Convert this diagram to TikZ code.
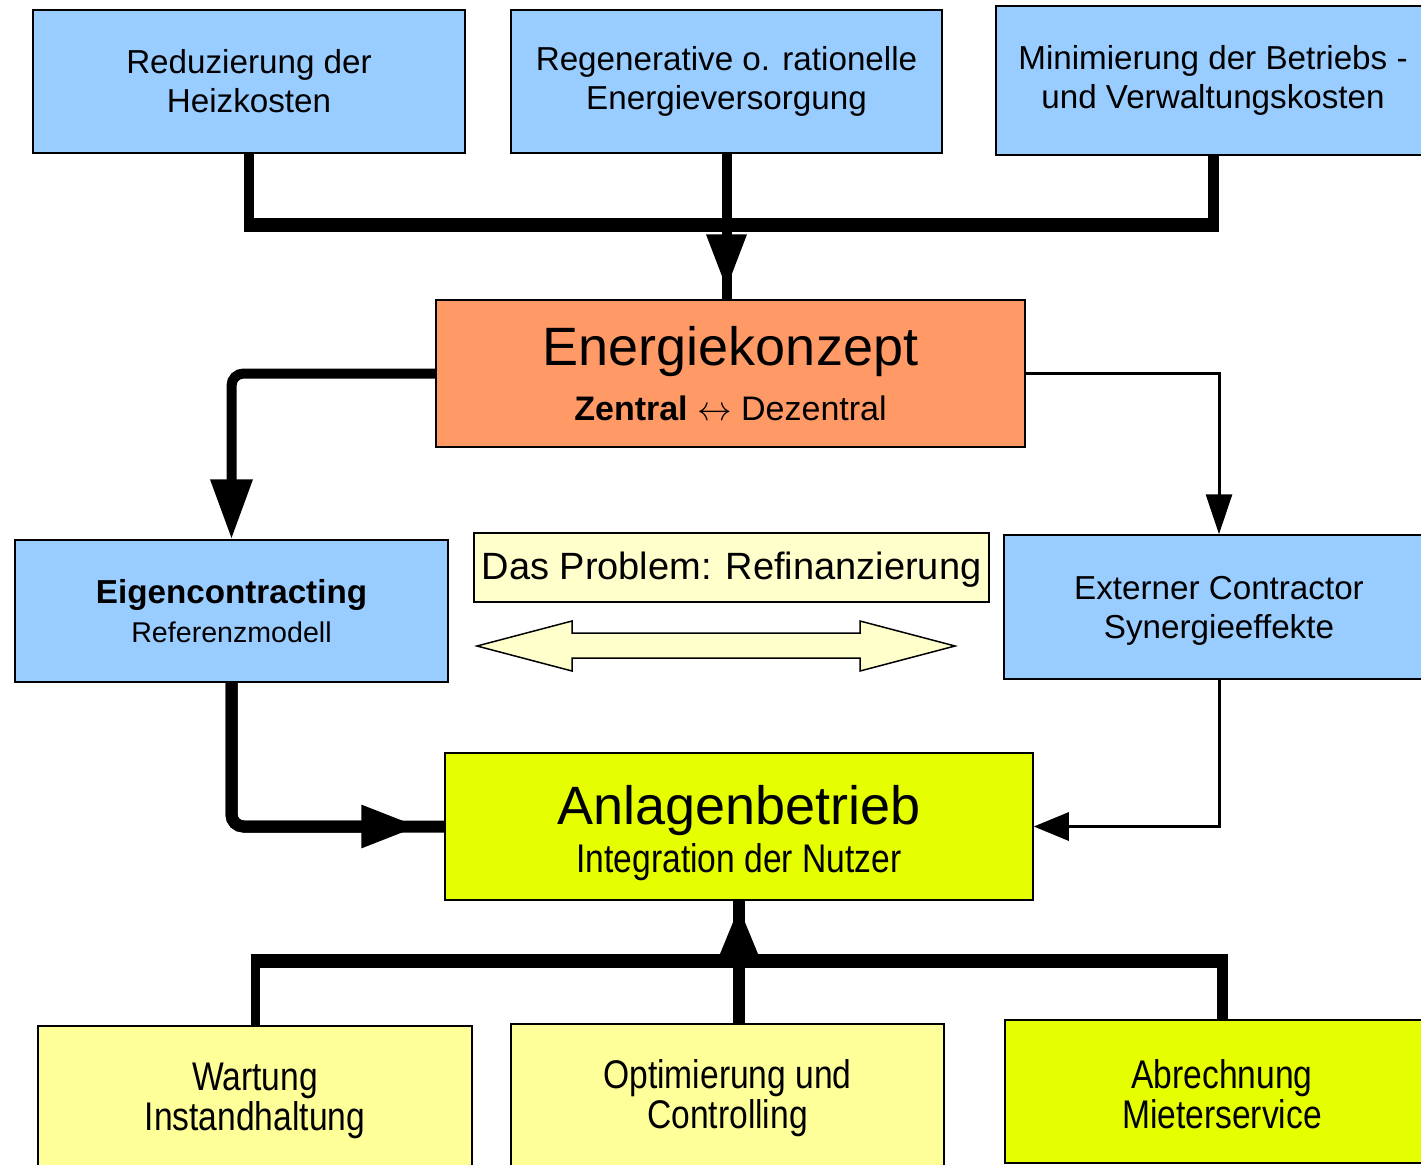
\documentclass[tikz,border=0pt]{standalone}
\usepackage{fontspec}
\setmainfont{Liberation Sans}
\newfontfamily\narrowfont[FakeStretch=0.84]{Liberation Sans}
\usetikzlibrary{arrows.meta,calc}
\definecolor{boxblue}{HTML}{99CCFF}
\definecolor{boxorange}{HTML}{FF9966}
\definecolor{boxlime}{HTML}{E6FF00}
\definecolor{boxyellow}{HTML}{FFFF99}
\definecolor{boxcream}{HTML}{FFFFCC}
\begin{document}
\begin{tikzpicture}[x=0.5pt,y=-0.5pt,
  box/.style={draw=black, line width=0.75pt, rectangle, inner sep=0pt, align=center, text=black},
  topbox/.style={box, fill=boxblue, font=\fontsize{16.6}{19.5}\selectfont},
  lowbox/.style={box, font=\narrowfont\fontsize{20}{20}\selectfont},
  heavy/.style={line width=#1, draw=black},
]
\useasboundingbox (0,0) rectangle (1421,1164);
\clip (0,0) rectangle (1421,1164);

% top row
\node[topbox, minimum width=216pt, minimum height=71.5pt] (A1) at (249,81.5) {Reduzierung der\\Heizkosten};
\node[topbox, minimum width=215.5pt, minimum height=71.5pt] (A2) at (726.5,81.5) {Regenerative o. rationelle\\Energieversorgung};
\node[topbox, minimum width=217pt, minimum height=74.5pt] (A3) at (1213,80.5) {Minimierung der Betriebs -\\und Verwaltungskosten};

% Energiekonzept
\node[box, fill=boxorange, minimum width=294.5pt, minimum height=73.5pt, font=\fontsize{17}{27.5}\selectfont] (E) at (730.5,373.5)
  {{\fontsize{27}{27.5}\selectfont Energiekonzept}\\{\bfseries Zentral} $\leftrightarrow$ Dezentral};

% middle row
\node[topbox, minimum width=216.5pt, minimum height=71pt] (Eig) at (231.5,611)
  {{\bfseries Eigencontracting}\\{\fontsize{14.3}{19}\selectfont Referenzmodell}};
\node[box, fill=boxcream, minimum width=257.5pt, minimum height=34.5pt, font=\fontsize{19}{22}\selectfont] (P) at (731.5,567.5) {\rule{0pt}{16pt}Das Problem: Refinanzierung};
\node[topbox, minimum width=215pt, minimum height=72pt] (Ext) at (1219,607) {\rule{0pt}{15pt}Externer Contractor\\Synergieeffekte};

% double arrow
\draw[fill=boxcream, line width=0.75pt] (477,646) -- (572,621) -- (572,633) -- (860,633) -- (860,621) -- (955,646)
  -- (860,671) -- (860,658) -- (572,658) -- (572,671) -- cycle;

% Anlagenbetrieb
\node[box, fill=boxlime, minimum width=294pt, minimum height=73.5pt, font=\narrowfont\fontsize{20}{24}\selectfont] (Anl) at (739,826.5)
  {{\rmfamily\fontsize{27}{24}\selectfont\rule{0pt}{26pt}Anlagenbetrieb}\\Integration der Nutzer};

% bottom row
\node[lowbox, fill=boxyellow, minimum width=217pt, minimum height=71.5pt] (W) at (255,1097.5) {\rule{0pt}{17pt}Wartung\\Instandhaltung};
\node[lowbox, fill=boxyellow, minimum width=216.5pt, minimum height=71.5pt] (O) at (727.5,1095.5) {\rule{0pt}{17pt}Optimierung und\\Controlling};
\node[lowbox, fill=boxlime, minimum width=217pt, minimum height=71.5pt] (R) at (1222,1091.5) {\rule{0pt}{17pt}Abrechnung\\Mieterservice};

% top connectors
\coordinate (tb) at (0,225);
\draw[heavy=5pt] (A1.south) -- (A1.south |- tb);
\draw[heavy=5.5pt] (A3.south) -- (A3.south |- tb);
\draw[heavy=7pt] ($(A1.south |- tb)+(-5,0)$) -- ($(A3.south |- tb)+(5.5,0)$);
\draw[heavy=5pt] (A2.south) -- (A2.south |- E.north);
\draw[heavy=5pt, -{Triangle[length=27.5pt,width=19pt]}, shorten >=5pt] (A2.south) -- (A2.south |- E.north);

% Energiekonzept to middle row
\draw[heavy=5pt, rounded corners=6pt, -{Triangle[length=30pt,width=20pt]}] (E.west) -| (Eig.north);
\draw[heavy=1.5pt, -{Triangle[length=20pt,width=13pt]}] (E.east) -| (Ext.north);

% middle row to Anlagenbetrieb
\draw[heavy=6pt, rounded corners=6pt] (Eig.south) |- (Anl.west);
\draw[heavy=6pt, rounded corners=6pt, -{Triangle[length=29pt,width=20pt]}, shorten >=12.5pt] (Eig.south) |- (Anl.west);
\draw[heavy=1.5pt, -{Triangle[length=17.5pt,width=14pt]}] (Ext.south) |- (Anl.east);

% bottom connectors
\coordinate (bb) at (0,961);
\draw[heavy=4.5pt] (W.north) -- (W.north |- bb);
\draw[heavy=5.5pt] (R.north) -- (R.north |- bb);
\draw[heavy=7pt] ($(W.north |- bb)+(-4.5,0)$) -- ($(R.north |- bb)+(5.5,0)$);
\draw[heavy=6pt] (Anl.south |- O.north) -- (Anl.south);
\draw[heavy=6pt, -{Triangle[length=26.5pt,width=19pt]}, shorten >=2.5pt] (Anl.south |- O.north) -- (Anl.south);
\end{tikzpicture}
\end{document}
